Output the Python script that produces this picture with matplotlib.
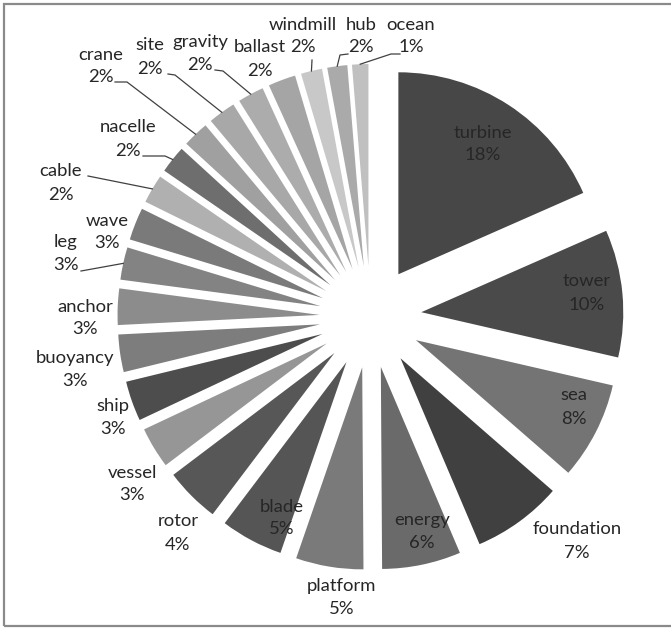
import numpy as np
import matplotlib.pyplot as plt
from matplotlib.patches import Rectangle

# slice data, clockwise from 12 o'clock
terms = ['turbine', 'tower', 'sea', 'foundation', 'energy', 'platform', 'blade',
         'rotor', 'vessel', 'ship', 'buoyancy', 'anchor', 'leg', 'wave', 'cable',
         'nacelle', 'crane', 'site', 'gravity', 'ballast', 'windmill', 'hub', 'ocean']
shares = [18.4, 10.2, 7.8, 7.2, 6.3, 5.4, 5.0,
          4.4, 3.3, 3.2, 3.0, 2.9, 2.6, 2.6, 2.3,
          2.2, 2.1, 2.2, 2.1, 2.2, 1.7, 1.6, 1.3]
greys = ['#474747', '#4a4a4a', '#747474', '#404040', '#6a6a6a', '#7a7a7a', '#555555',
         '#575757', '#969696', '#4d4d4d', '#7d7d7d', '#8c8c8c', '#838383', '#7a7a7a', '#b0b0b0',
         '#6e6e6e', '#a0a0a0', '#a8a8a8', '#acacac', '#a5a5a5', '#c8c8c8', '#aaaaaa', '#c0c0c0']

# label centres in image pixels (x, y from top); name above, percent below
label_pos = {'turbine': (483, 144), 'tower': (587, 293), 'sea': (574, 407),
             'foundation': (577, 541), 'energy': (422, 531), 'platform': (342, 598),
             'blade': (282, 518), 'rotor': (178, 533), 'vessel': (132, 484),
             'ship': (113, 418), 'buoyancy': (75, 370), 'anchor': (85, 318),
             'leg': (66, 253), 'wave': (107, 232), 'cable': (61, 183),
             'nacelle': (128, 139), 'crane': (101, 66), 'site': (150, 57),
             'gravity': (200, 53), 'ballast': (260, 59), 'windmill': (303, 36),
             'hub': (361, 36), 'ocean': (411, 36)}
# leader lines: start point and optional elbow (pixels); end is on the wedge
leaders = {'leg': [(81, 271)], 'cable': [(88, 176)],
           'nacelle': [(143, 156), (165, 156)], 'crane': [(115, 82), (127, 82)],
           'site': [(168, 74), (175, 75)], 'gravity': [(215, 70), (223, 71)],
           'windmill': [(312, 60)], 'hub': [(348, 54), (340, 55)],
           'ocean': [(400, 54), (391, 54)]}

H = 629
cx, cy, R = 370.5, H - 317, 202
gap = 51  # explode offset, same units as the radius
half_line = 11.5

fig = plt.figure(figsize=(6.71, 6.29), dpi=100)
ax = fig.add_axes([0, 0, 1, 1])

wedges, _ = ax.pie(shares, colors=greys, explode=[gap] * len(shares), startangle=90,
                   counterclock=False, center=(cx, cy), radius=R,
                   wedgeprops=dict(linewidth=0))
ax.set_xlim(0, 671)
ax.set_ylim(0, H)
ax.set_aspect('equal')
ax.axis('off')

total = sum(shares)
font = dict(family='Lato', fontsize=13.3, color='#262626', ha='center', va='center')
for name, v, w in zip(terms, shares, wedges):
    x, y = label_pos[name]
    ax.text(x, H - (y - half_line), name, **font)
    ax.text(x, H - (y + half_line), f'{round(v / total * 100)}%', **font)
    if name in leaders:
        mid = np.deg2rad((w.theta1 + w.theta2) / 2)
        ex = cx + (R + gap) * np.cos(mid)
        ey = cy + (R + gap) * np.sin(mid)
        pts = leaders[name]
        xs = [p[0] for p in pts] + [ex]
        ys = [H - p[1] for p in pts] + [ey]
        ax.plot(xs, ys, color='#404040', lw=0.9)

# chart frame
fig.patches.append(Rectangle((4, 3), 700, 622, transform=None, fill=False,
                             edgecolor='#8a8a8a', lw=1.6))

fig.savefig('out.png', dpi=100)
